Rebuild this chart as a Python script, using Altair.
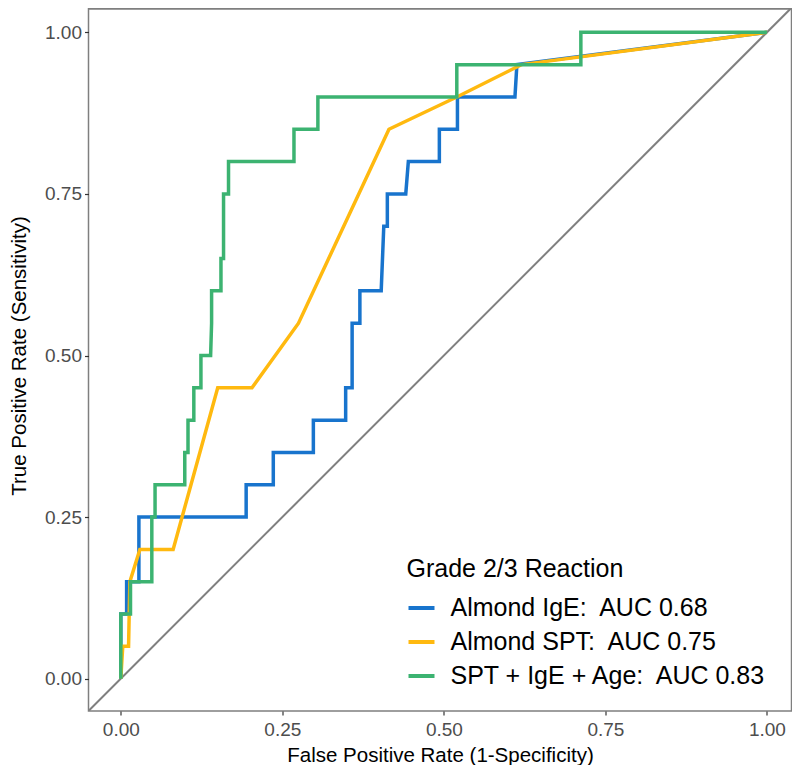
import altair as alt
import pandas as pd

labels = ["Almond IgE:\u00a0 AUC 0.68", "Almond SPT:\u00a0 AUC 0.75", "SPT + IgE + Age:\u00a0 AUC 0.83"]
colors = ["#1874CD", "#FFB90F", "#3CB371"]

ige_fpr = [0, 0, 0.009, 0.009, 0.028, 0.028, 0.194, 0.194, 0.236, 0.236, 0.298, 0.298, 0.348, 0.348,
           0.358, 0.358, 0.370, 0.370, 0.403, 0.407, 0.4125, 0.4125, 0.441, 0.445, 0.493, 0.493,
           0.521, 0.521, 0.610, 0.613, 1.0]
ige_tpr = [0, 0.10, 0.10, 0.15, 0.15, 0.25, 0.25, 0.30, 0.30, 0.35, 0.35, 0.40, 0.40, 0.45,
           0.45, 0.55, 0.55, 0.60, 0.60, 0.70, 0.70, 0.75, 0.75, 0.80, 0.80, 0.85,
           0.85, 0.90, 0.90, 0.95, 1.0]

spt_fpr = [0, 0.003, 0.012, 0.014, 0.0295, 0.081, 0.15, 0.203, 0.275, 0.415, 0.52, 0.62, 1.0]
spt_tpr = [0, 0.05, 0.05, 0.15, 0.20, 0.20, 0.45, 0.45, 0.55, 0.85, 0.90, 0.95, 1.0]

comb_fpr = [0, 0, 0.015, 0.015, 0.048, 0.048, 0.053, 0.053, 0.099, 0.099, 0.104, 0.104, 0.113, 0.113,
            0.124, 0.124, 0.139, 0.1405, 0.1405, 0.155, 0.155, 0.159, 0.159, 0.1667, 0.1667,
            0.268, 0.268, 0.305, 0.305, 0.520, 0.520, 0.712, 0.712, 1.0]
comb_tpr = [0, 0.10, 0.10, 0.15, 0.15, 0.25, 0.25, 0.30, 0.30, 0.35, 0.35, 0.40, 0.40, 0.45,
            0.45, 0.50, 0.50, 0.55, 0.60, 0.60, 0.65, 0.65, 0.75, 0.75, 0.80,
            0.80, 0.85, 0.85, 0.90, 0.90, 0.95, 0.95, 1.0, 1.0]

tick_values = [0, 0.25, 0.5, 0.75, 1.0]

rows = []
for g, (lab, xs, ys) in enumerate(zip(labels, [ige_fpr, spt_fpr, comb_fpr], [ige_tpr, spt_tpr, comb_tpr])):
    for i, (a, b) in enumerate(zip(xs, ys)):
        rows.append({"model": lab, "fpr": a, "tpr": b, "idx": i, "grp": g})
df = pd.DataFrame(rows)

diag = pd.DataFrame({"fpr": [-0.05, 1.05], "tpr": [-0.05, 1.05]})

FONT = "Liberation Sans, Arial, sans-serif"
W, H = 703, 711
xscale = alt.Scale(domain=[-0.05, 1.038], nice=False, zero=False)
yscale = alt.Scale(domain=[-0.05, 1.05], nice=False, zero=False)

common_axis = dict(values=tick_values, format=".2f", grid=False, domain=False,
                   tickColor="#333333", tickSize=4, tickWidth=1.2, labelColor="#4d4d4d",
                   labelFontSize=19, labelFont=FONT,
                   titleFont=FONT, titleFontSize=20.5, titleFontWeight="normal", titleColor="black")
xaxis = alt.Axis(title="False Positive Rate (1-Specificity)", labelPadding=5, titlePadding=6, **common_axis)
yaxis = alt.Axis(title="True Positive Rate (Sensitivity)", labelPadding=3, titlePadding=15, **common_axis)

diag_line = alt.Chart(diag).mark_line(color="#7f7f7f", strokeWidth=2, clip=True).encode(
    x=alt.X("fpr:Q", scale=xscale, axis=xaxis),
    y=alt.Y("tpr:Q", scale=yscale, axis=yaxis),
)

top_border = alt.Chart(diag).mark_rule(color="#7f7f7f", strokeWidth=1.5).encode(
    x=alt.value(0), x2=alt.value(W), y=alt.value(8.75)
)

curves = alt.Chart(df).mark_line(strokeWidth=3.5, clip=True, strokeJoin="miter").encode(
    x=alt.X("fpr:Q", scale=xscale, axis=xaxis),
    y=alt.Y("tpr:Q", scale=yscale, axis=yaxis),
    color=alt.Color("model:N", scale=alt.Scale(domain=labels, range=colors),
                    legend=alt.Legend(title="Grade 2/3 Reaction", orient="none",
                                      legendX=318, legendY=557,
                                      titleFont=FONT, titleFontSize=25, titleFontWeight="normal",
                                      titleColor="black", titlePadding=11, titleLimit=500,
                                      labelFont=FONT, labelFontSize=25, labelColor="black",
                                      labelLimit=500,
                                      symbolType="stroke", symbolStrokeWidth=4, symbolSize=676,
                                      rowPadding=6, labelOffset=14)),
    order=alt.Order("idx:Q"),
    detail="grp:N",
)

chart = alt.layer(diag_line, curves, top_border).properties(
    width=W, height=H,
    autosize=alt.AutoSizeParams(type="none"),
    padding={"left": 80.5, "top": -8, "right": 0.5, "bottom": 54},
).configure(background="white").configure_view(stroke="#7f7f7f", strokeWidth=1.5)

chart.save("out.html", embed_options={"renderer": "svg", "actions": False})
